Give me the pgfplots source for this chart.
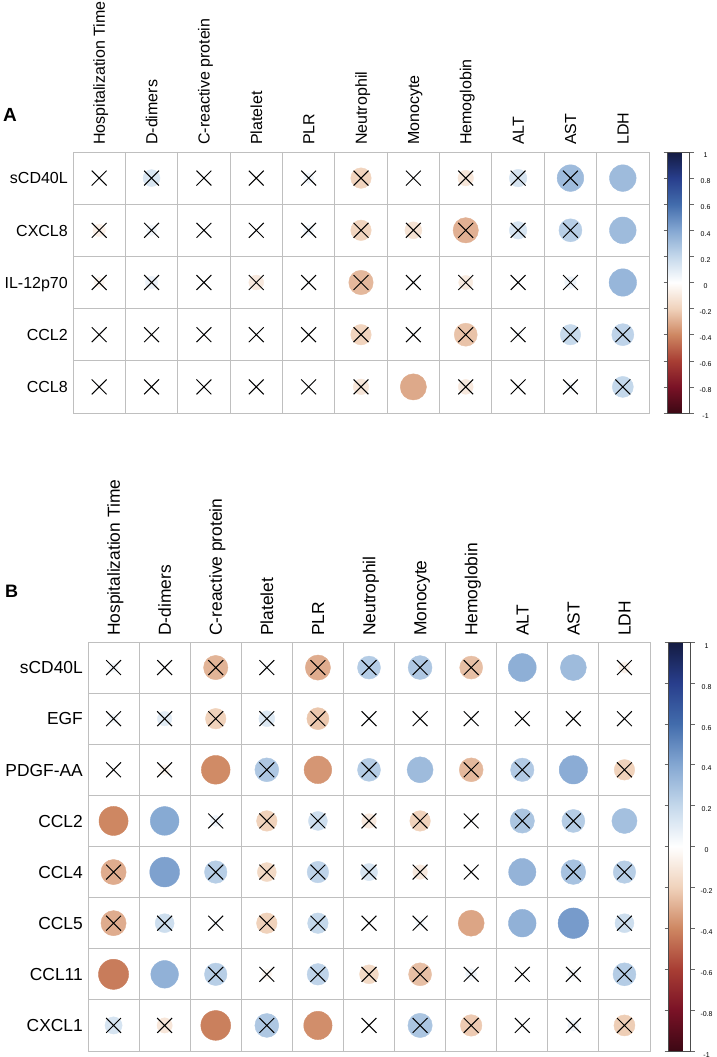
\documentclass[border=0pt]{standalone}
\usepackage{pgfplots}
\pgfplotsset{compat=1.18}
\usepackage{pgfplotstable}
\usepackage{fontspec}
\setmainfont{Liberation Sans}

\pgfplotsset{colormap={rdbu}{rgb255=(60,8,20) rgb255=(122,18,38) rgb255=(168,62,52) rgb255=(206,135,98) rgb255=(240,210,187) rgb255=(255,255,255) rgb255=(196,216,235) rgb255=(132,167,210) rgb255=(66,108,172) rgb255=(40,62,140) rgb255=(20,27,65)}}

\pgfplotstableread{
c r v ns
1 1 0.01 1
2 1 0.13 1
3 1 0.01 1
4 1 -0.01 1
5 1 0.05 1
6 1 -0.19 1
7 1 0.01 1
8 1 -0.11 1
9 1 0.14 1
10 1 0.32 1
11 1 0.32 0
1 2 -0.07 1
2 2 0.05 1
3 2 0.01 1
4 2 0.01 1
5 2 0.05 1
6 2 -0.19 1
7 2 -0.13 1
8 2 -0.29 1
9 2 0.14 1
10 2 0.24 1
11 2 0.32 0
1 3 -0.05 1
2 3 0.07 1
3 3 0.01 1
4 3 -0.10 1
5 3 0.01 1
6 3 -0.27 1
7 3 0.01 1
8 3 -0.09 1
9 3 0.01 1
10 3 0.06 1
11 3 0.34 0
1 4 0.01 1
2 4 0.01 1
3 4 0.01 1
4 4 0.01 1
5 4 0.01 1
6 4 -0.19 1
7 4 0.01 1
8 4 -0.24 1
9 4 0.03 1
10 4 0.19 1
11 4 0.22 1
1 5 0.01 1
2 5 0.01 1
3 5 0.01 1
4 5 0.01 1
5 5 0.01 1
6 5 -0.11 1
7 5 -0.31 0
8 5 -0.10 1
9 5 0.01 1
10 5 0.04 1
11 5 0.20 1
}\tabA

\pgfplotstableread{
c r v ns
1 1 0.04 1
2 1 0.01 1
3 1 -0.28 1
4 1 0.03 1
5 1 -0.30 1
6 1 0.25 1
7 1 0.27 1
8 1 -0.25 1
9 1 0.37 0
10 1 0.32 0
11 1 -0.06 1
1 2 0.04 1
2 2 0.10 1
3 2 -0.20 1
4 2 0.12 1
5 2 -0.23 1
6 2 0.02 1
7 2 0.01 1
8 2 0.01 1
9 2 0.01 1
10 2 0.01 1
11 2 0.01 1
1 3 0.01 1
2 3 -0.05 1
3 3 -0.39 0
4 3 0.27 1
5 3 -0.36 0
6 3 0.25 1
7 3 0.32 0
8 3 -0.27 1
9 3 0.26 1
10 3 0.38 0
11 3 -0.20 1
1 4 -0.40 0
2 4 0.39 0
3 4 0.06 1
4 4 -0.20 1
5 4 0.17 1
6 4 -0.10 1
7 4 -0.20 1
8 4 0.01 1
9 4 0.28 1
10 4 0.25 1
11 4 0.30 0
1 5 -0.30 1
2 5 0.42 0
3 5 0.24 1
4 5 -0.17 1
5 5 0.22 1
6 5 0.14 1
7 5 -0.10 1
8 5 0.01 1
9 5 0.35 0
10 5 0.29 1
11 5 0.24 1
1 6 -0.30 1
2 6 0.17 1
3 6 0.03 1
4 6 -0.20 1
5 6 0.20 1
6 6 0.01 1
7 6 0.04 1
8 6 -0.32 0
9 6 0.36 0
10 6 0.44 0
11 6 0.17 1
1 7 -0.43 0
2 7 0.36 0
3 7 0.24 1
4 7 -0.05 1
5 7 0.22 1
6 7 -0.17 1
7 7 -0.25 1
8 7 0.06 1
9 7 0.01 1
10 7 0.05 1
11 7 0.25 1
1 8 0.14 1
2 8 -0.11 1
3 8 -0.42 0
4 8 0.27 1
5 8 -0.38 0
6 8 0.01 1
7 8 0.28 1
8 8 -0.22 1
9 8 0.01 1
10 8 0.06 1
11 8 -0.21 1
}\tabB

\pgfplotsset{
  corrgrid/.style={
    scale only axis, clip=false,
    xmin=0.5, xmax=11.5, ymin=0.5,
    y dir=reverse,
    axis line style={black!25, line width=0.9pt},
    xtick={1,...,11},
    xticklabels={Hospitalization Time, D-dimers, C-reactive protein, Platelet, PLR, Neutrophil, Monocyte, Hemoglobin, ALT, AST, LDH},
    xticklabel pos=upper,
    major tick length=0pt, minor tick length=0pt,
    minor xtick={1.5,2.5,...,10.5},
    xminorgrids=true, yminorgrids=true,
    minor grid style={black!25, line width=0.9pt},
    xticklabel style={rotate=90, anchor=west, inner sep=0pt, text depth=0pt},
    yticklabel style={anchor=east, inner sep=0pt, text depth=0pt},
    colormap name=rdbu,
    point meta min=-1, point meta max=1,
    colorbar,
    colorbar style={
      at={(parent axis.south east)}, anchor=south west, xshift=10pt,
      width=22pt,
      ytick={-1,-0.8,-0.6,-0.4,-0.2,0,0.2,0.4,0.6,0.8,1},
      yticklabels={-1,-0.8,-0.6,-0.4,-0.2,0,0.2,0.4,0.6,0.8,1},
      yticklabel style={font=\fontsize{7}{8}\selectfont, anchor=center, inner sep=0pt, xshift=12pt},
      tick align=outside, major tick length=4pt,
      tick style={black!60, line width=0.5pt},
      axis line style={black!70, line width=0.6pt},
    },
  },
  circ/.style={scatter, only marks, mark=*, point meta=\thisrow{v},
    scatter/use mapped color={draw=mapped color, fill=mapped color},
    visualization depends on={0.45*sqrt(abs(\thisrow{v}))*#1 \as \rad},
    scatter/@pre marker code/.append style={/tikz/mark size=\rad}},
  crs/.style={only marks, mark=x, mark size=10.5pt, black,
    mark options={line width=1pt},
    restrict expr to domain={\thisrow{ns}}{0.5:1.5}},
}

\begin{document}
\begin{tikzpicture}
\useasboundingbox (0,0) rectangle (716pt,1057pt);

\begin{axis}[corrgrid,
  at={(73pt,644pt)}, anchor=south west, width=576pt, height=261pt,
  ymax=5.5, ytick={1,...,5}, minor ytick={1.5,2.5,...,4.5},
  yticklabels={sCD40L, CXCL8, IL-12p70, CCL2, CCL8},
  tick label style={font=\fontsize{16}{18}\selectfont, text height=11.5pt},
  xticklabel shift=7pt, yticklabel shift=5pt]
\addplot[circ=52.3] table[x=c, y=r] {\tabA};
\addplot[crs] table[x=c, y=r] {\tabA};
\end{axis}

\begin{axis}[corrgrid,
  at={(88pt,6pt)}, anchor=south west, width=562pt, height=409pt,
  ymax=8.5, ytick={1,...,8}, minor ytick={1.5,2.5,...,7.5},
  yticklabels={sCD40L, EGF, PDGF-AA, CCL2, CCL4, CCL5, CCL11, CXCL1},
  tick label style={font=\fontsize{17.4}{19}\selectfont, text height=12.5pt},
  xticklabel shift=6pt, yticklabel shift=5pt]
\addplot[circ=51.1] table[x=c, y=r] {\tabB};
\addplot[crs] table[x=c, y=r] {\tabB};
\end{axis}

\node[anchor=base west, inner sep=0pt, font=\bfseries\fontsize{19}{20}\selectfont] at (3pt,935pt) {A};
\node[anchor=base west, inner sep=0pt, font=\bfseries\fontsize{18}{20}\selectfont] at (5pt,459pt) {B};
\end{tikzpicture}
\end{document}
